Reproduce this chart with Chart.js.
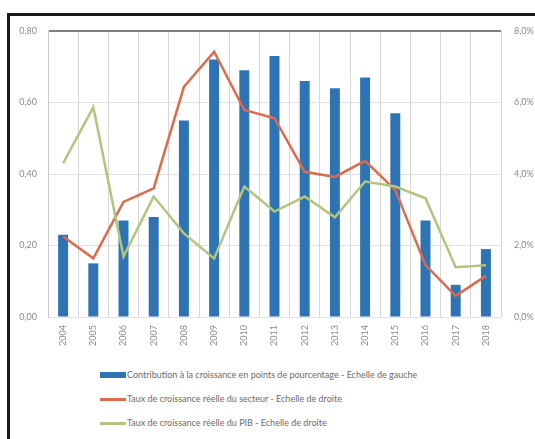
<!DOCTYPE html>
<html lang="fr">
<head>
<meta charset="utf-8">
<title>Croissance du secteur et du PIB</title>
<script src="https://cdn.jsdelivr.net/npm/chart.js@4/dist/chart.umd.min.js"></script>
<style>
  html, body { margin: 0; padding: 0; background: #fff; overflow: hidden; }
  #page { position: relative; width: 535px; height: 439px; overflow: hidden; }
  .bord { position: absolute; background: #1b1b1b; }
  #bordGauche { left: 7px; top: 13px; width: 3px; height: 426px; }
  #bordHaut { left: 7px; top: 13px; width: 528px; height: 3px; }
  #chart { position: absolute; left: 0; top: 0; }
  #legend {
    position: absolute; left: 100px; top: 368px;
    font-family: Lato, "Open Sans", sans-serif; font-size: 9px; color: #6b6b6b;
  }
  #legend .row { height: 24px; display: flex; align-items: flex-start; line-height: 14px; }
  #legend .sw { width: 26px; margin-right: 1px; }
</style>
</head>
<body>
<div id="page">
  <div class="bord" id="bordGauche"></div>
  <div class="bord" id="bordHaut"></div>
  <canvas id="chart" width="535" height="362"></canvas>
  <div id="legend"></div>
</div>
<script>
// Données
const annees = ["2004", "2005", "2006", "2007", "2008", "2009", "2010", "2011",
                "2012", "2013", "2014", "2015", "2016", "2017", "2018"];
// contribution à la croissance (points de pourcentage, axe gauche)
const contribution = [0.23, 0.15, 0.27, 0.28, 0.55, 0.72, 0.69, 0.73,
                      0.66, 0.64, 0.67, 0.57, 0.27, 0.09, 0.19];
// taux de croissance réelle du secteur (%, axe droit)
const croissanceSecteur = [2.25, 1.64, 3.22, 3.6, 6.44, 7.42, 5.79, 5.56,
                           4.06, 3.92, 4.37, 3.55, 1.45, 0.59, 1.15];
// taux de croissance réelle du PIB (%, axe droit)
const croissancePIB = [4.3, 5.87, 1.69, 3.37, 2.34, 1.64, 3.65, 2.95,
                       3.37, 2.79, 3.79, 3.65, 3.32, 1.39, 1.45];
const ticksGauche = [0, 0.2, 0.4, 0.6, 0.8];
const ticksDroite = [0, 2, 4, 6, 8];

const libelles = [
  "Contribution à la croissance en points de pourcentage - Echelle de gauche",
  "Taux de croissance réelle du secteur - Echelle de droite",
  "Taux de croissance réelle du PIB - Echelle de droite"
];

const BLEU = "#2e74b5";
const ROUGE = "#dd6a4c";
const VERT = "#b2c57f";
const fontTicks = { family: "Lato, 'Open Sans', sans-serif", size: 9 };

const ctx = document.getElementById("chart").getContext("2d");
const chart = new Chart(ctx, {
  data: {
    labels: annees,
    datasets: [
      {
        type: "bar",
        label: libelles[0],
        data: contribution,
        backgroundColor: BLEU,
        yAxisID: "yG",
        categoryPercentage: 1,
        barPercentage: 0.33,
        order: 3
      },
      {
        type: "line",
        label: libelles[1],
        data: croissanceSecteur,
        borderColor: ROUGE,
        borderWidth: 2.5,
        pointRadius: 0,
        tension: 0,
        yAxisID: "yD",
        order: 2
      },
      {
        type: "line",
        label: libelles[2],
        data: croissancePIB,
        borderColor: VERT,
        borderWidth: 2.5,
        pointRadius: 0,
        tension: 0,
        yAxisID: "yD",
        order: 1
      }
    ]
  },
  options: {
    responsive: false,
    animation: false,
    layout: { padding: { top: 31, left: 0, right: 0, bottom: 0 } },
    plugins: {
      legend: { display: false },
      tooltip: { enabled: false }
    },
    scales: {
      x: {
        offset: true,
        grid: { offset: true, color: "#d6d6d6", lineWidth: 1, drawTicks: false },
        border: { display: false },
        ticks: {
          minRotation: 90, maxRotation: 90, padding: 8,
          color: "#8a8a8a", font: fontTicks
        },
        afterFit: scale => { scale.height = 45; }
      },
      yG: {
        position: "left",
        min: 0, max: 0.8,
        afterBuildTicks: scale => { scale.ticks = ticksGauche.map(v => ({ value: v })); },
        grid: {
          drawTicks: false,
          color: c => c.tick && c.tick.value === 0.8 ? "#808080" : "#e2e2e2",
          lineWidth: c => c.tick && c.tick.value === 0.8 ? 2 : 1
        },
        border: { display: true, color: "#c8c8c8" },
        ticks: {
          padding: 11, color: "#8a8a8a", font: fontTicks,
          callback: v => v.toFixed(2).replace(".", ",")
        },
        afterFit: scale => { scale.width = 48; }
      },
      yD: {
        position: "right",
        min: 0, max: 8,
        afterBuildTicks: scale => { scale.ticks = ticksDroite.map(v => ({ value: v })); },
        grid: { display: false },
        border: { display: false },
        ticks: {
          padding: 5, color: "#8a8a8a", font: fontTicks,
          callback: v => v.toFixed(1).replace(".", ",") + "%"
        },
        afterFit: scale => { scale.width = 34; }
      }
    }
  }
});

// Légende construite à partir des séries du graphique
const legende = document.getElementById("legend");
chart.data.datasets.forEach(ds => {
  const row = document.createElement("div");
  row.className = "row";
  const sw = document.createElement("div");
  sw.className = "sw";
  if (ds.type === "bar") {
    sw.style.height = "6px";
    sw.style.marginTop = "4px";
    sw.style.background = ds.backgroundColor;
  } else {
    sw.style.height = "3px";
    sw.style.marginTop = "6px";
    sw.style.background = ds.borderColor;
  }
  const txt = document.createElement("span");
  txt.textContent = ds.label;
  row.appendChild(sw);
  row.appendChild(txt);
  legende.appendChild(row);
});
</script>
</body>
</html>
